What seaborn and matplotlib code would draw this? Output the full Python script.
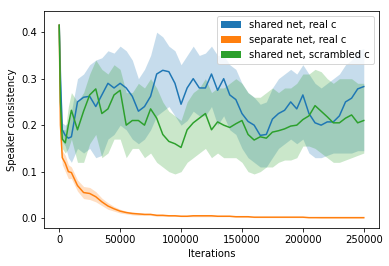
import numpy as np
import pandas as pd
import seaborn as sns
import matplotlib
matplotlib.use("Agg")
import matplotlib.pyplot as plt
from matplotlib.patches import Patch

# Iterações (eixo x)
iteracoes = [0, 1000, 2500, 5000, 7500, 10000] + list(range(15000, 250001, 5000))

# shared net, real c
azul_media = [0.415, 0.30, 0.19, 0.178, 0.172, 0.175,
              0.25, 0.26, 0.262, 0.24, 0.265, 0.29, 0.28, 0.29, 0.28, 0.262,
              0.23, 0.24, 0.262, 0.31, 0.318, 0.315, 0.29, 0.245, 0.28, 0.30,
              0.28, 0.28, 0.31, 0.275, 0.30, 0.265, 0.255, 0.225, 0.208, 0.2,
              0.178, 0.18, 0.213, 0.225, 0.232, 0.25, 0.235, 0.265, 0.225, 0.205,
              0.2, 0.207, 0.207, 0.22, 0.25, 0.258, 0.278, 0.283]
azul_min = [0.41, 0.26, 0.165, 0.155, 0.13, 0.12,
            0.15, 0.14, 0.15, 0.13, 0.135, 0.17, 0.18, 0.20, 0.19, 0.17,
            0.16, 0.17, 0.19, 0.22, 0.23, 0.24, 0.22, 0.2, 0.21, 0.23,
            0.22, 0.22, 0.24, 0.2, 0.22, 0.19, 0.18, 0.15, 0.13, 0.12,
            0.11, 0.11, 0.13, 0.15, 0.16, 0.17, 0.16, 0.17, 0.14, 0.13,
            0.13, 0.135, 0.14, 0.14, 0.14, 0.14, 0.145, 0.145]
azul_max = [0.425, 0.34, 0.205, 0.20, 0.205, 0.23,
            0.30, 0.31, 0.33, 0.34, 0.345, 0.36, 0.355, 0.37, 0.36, 0.34,
            0.30, 0.32, 0.35, 0.40, 0.39, 0.37, 0.36, 0.33, 0.35, 0.37,
            0.35, 0.355, 0.37, 0.35, 0.35, 0.33, 0.32, 0.29, 0.27, 0.26,
            0.245, 0.25, 0.28, 0.30, 0.31, 0.32, 0.31, 0.33, 0.31, 0.29,
            0.28, 0.29, 0.30, 0.31, 0.33, 0.34, 0.36, 0.365]

# separate net, real c
laranja_media = [0.415, 0.2, 0.13, 0.118, 0.1, 0.098,
                 0.07, 0.055, 0.053, 0.046, 0.035, 0.026, 0.02, 0.015, 0.012, 0.01,
                 0.009, 0.008, 0.008, 0.006, 0.006, 0.005, 0.005, 0.004, 0.004, 0.005,
                 0.005, 0.005, 0.005, 0.004, 0.004, 0.004, 0.003, 0.003, 0.003, 0.002,
                 0.002, 0.002, 0.002, 0.002, 0.002, 0.002, 0.002, 0.002, 0.001, 0.001,
                 0.001, 0.001, 0.001, 0.001, 0.001, 0.001, 0.001, 0.001]
laranja_min = [0.41, 0.17, 0.115, 0.1, 0.085, 0.085,
               0.058, 0.042, 0.04, 0.035, 0.027, 0.019, 0.015, 0.011, 0.009, 0.007,
               0.006, 0.006, 0.006, 0.004, 0.004, 0.004, 0.004, 0.003, 0.003, 0.003,
               0.003, 0.003, 0.003, 0.003, 0.003, 0.003, 0.002, 0.002, 0.002, 0.001,
               0.001, 0.001, 0.001, 0.001, 0.001, 0.001, 0.001, 0.001, 0.001, 0.001,
               0.0, 0.0, 0.0, 0.0, 0.0, 0.0, 0.0, 0.0]
laranja_max = [0.425, 0.23, 0.145, 0.135, 0.115, 0.11,
               0.082, 0.068, 0.066, 0.057, 0.043, 0.033, 0.025, 0.019, 0.015, 0.013,
               0.012, 0.01, 0.01, 0.008, 0.008, 0.007, 0.007, 0.006, 0.006, 0.007,
               0.007, 0.007, 0.007, 0.006, 0.006, 0.006, 0.004, 0.004, 0.004, 0.003,
               0.003, 0.003, 0.003, 0.003, 0.003, 0.003, 0.003, 0.003, 0.003, 0.003,
               0.002, 0.002, 0.002, 0.002, 0.002, 0.002, 0.002, 0.002]

# shared net, scrambled c
verde_media = [0.415, 0.25, 0.17, 0.162, 0.2, 0.232,
               0.19, 0.23, 0.265, 0.278, 0.225, 0.235, 0.265, 0.275, 0.2, 0.21,
               0.21, 0.2, 0.235, 0.215, 0.18, 0.165, 0.16, 0.152, 0.19, 0.205,
               0.215, 0.225, 0.19, 0.207, 0.2, 0.195, 0.203, 0.21, 0.18, 0.168,
               0.175, 0.172, 0.185, 0.188, 0.192, 0.198, 0.2, 0.212, 0.22, 0.242,
               0.23, 0.218, 0.205, 0.205, 0.215, 0.222, 0.205, 0.21]
verde_min = [0.41, 0.2, 0.15, 0.14, 0.15, 0.17,
             0.12, 0.12, 0.16, 0.18, 0.13, 0.14, 0.17, 0.17, 0.13, 0.15,
             0.15, 0.13, 0.14, 0.12, 0.11, 0.1, 0.095, 0.1, 0.12, 0.13,
             0.14, 0.15, 0.13, 0.14, 0.13, 0.13, 0.13, 0.12, 0.1, 0.095,
             0.1, 0.11, 0.11, 0.12, 0.125, 0.125, 0.13, 0.155, 0.155, 0.15,
             0.14, 0.13, 0.12, 0.12, 0.125, 0.13, 0.135, 0.14]
verde_max = [0.425, 0.3, 0.19, 0.19, 0.24, 0.27,
             0.25, 0.27, 0.31, 0.34, 0.32, 0.31, 0.33, 0.32, 0.27, 0.27,
             0.29, 0.28, 0.3, 0.28, 0.25, 0.23, 0.22, 0.21, 0.25, 0.27,
             0.28, 0.30, 0.27, 0.28, 0.28, 0.29, 0.30, 0.29, 0.27, 0.26,
             0.26, 0.27, 0.28, 0.27, 0.28, 0.28, 0.29, 0.31, 0.31, 0.32,
             0.315, 0.30, 0.29, 0.3, 0.3, 0.30, 0.29, 0.29]

nomes = ["shared net, real c", "separate net, real c", "shared net, scrambled c"]
cores = ["tab:blue", "tab:orange", "tab:green"]
medias = [azul_media, laranja_media, verde_media]
minimos = [azul_min, laranja_min, verde_min]
maximos = [azul_max, laranja_max, verde_max]

# Monta o dataframe em formato longo
df = pd.concat([pd.DataFrame({"iteracao": iteracoes, "valor": m, "serie": n})
                for n, m in zip(nomes, medias)], ignore_index=True)

fig = plt.figure(figsize=(389 / 72, 266 / 72), dpi=72)
ax = fig.add_axes([0.1131, 0.1429, 0.8612, 0.8169])

sns.lineplot(data=df, x="iteracao", y="valor", hue="serie", hue_order=nomes,
             palette=cores, errorbar=None, legend=False, linewidth=1.5, ax=ax)

# Faixas de incerteza
for cor, lo, hi in zip(cores, minimos, maximos):
    ax.fill_between(iteracoes, lo, hi, color=cor, alpha=0.25, linewidth=0)

ax.set_xlabel("Iterations")
ax.set_ylabel("Speaker consistency")
ax.legend(handles=[Patch(facecolor=c, label=n) for c, n in zip(cores, nomes)],
          loc="upper right")

fig.savefig("out.png", dpi=72)
